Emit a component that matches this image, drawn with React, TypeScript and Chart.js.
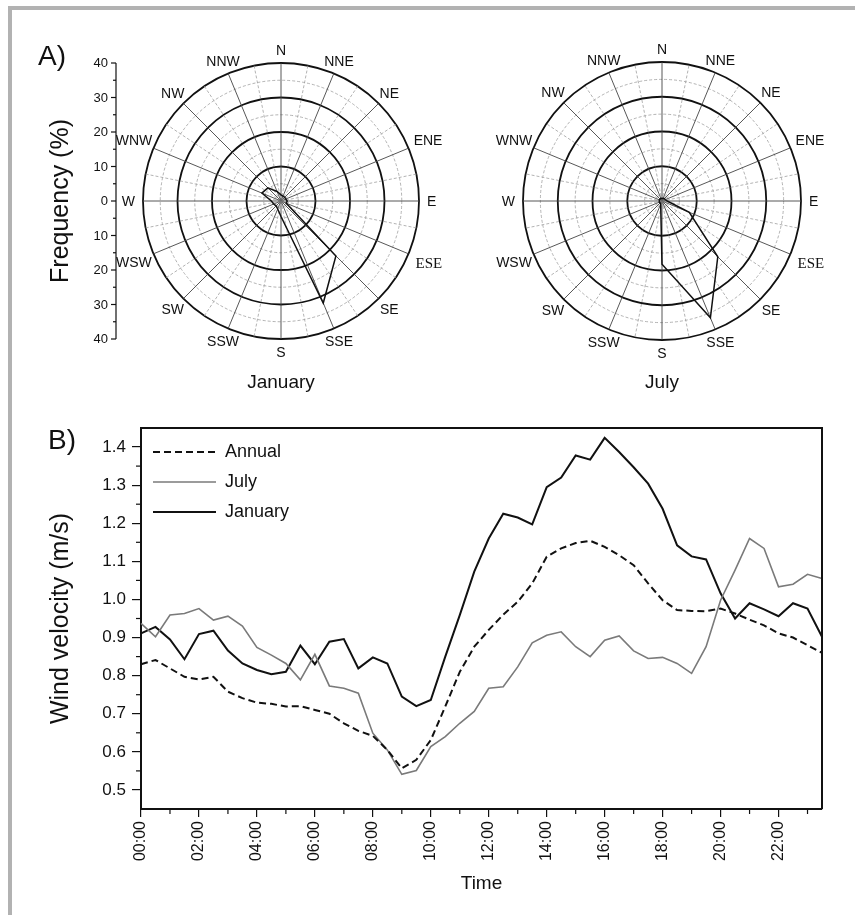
import React, { useEffect, useRef } from 'react';
import { Chart, registerables } from 'chart.js';

Chart.register(...registerables);
Chart.defaults.font.family = "'Liberation Sans', Arial, Helvetica, sans-serif";
Chart.defaults.color = '#111';

// ---------- Wind rose data (frequency %, 16 directions) ----------
const DIRECTIONS = ['N', 'NNE', 'NE', 'ENE', 'E', 'ESE', 'SE', 'SSE', 'S', 'SSW', 'SW', 'WSW', 'W', 'WNW', 'NW', 'NNW'];
const JANUARY_FREQUENCY = [1.8, 1.5, 1.5, 1.5, 1.8, 1.6, 22.5, 32.0, 4.5, 2.5, 2.0, 2.3, 2.8, 6.0, 5.4, 3.0];
const JULY_FREQUENCY = [0.8, 0.8, 1.0, 1.0, 1.5, 8.5, 22.7, 36.4, 18.2, 1.0, 0.8, 0.8, 0.8, 0.8, 0.8, 0.8];
const FREQUENCY_MAJOR_TICKS = [40, 30, 20, 10, 0, -10, -20, -30, -40];
const FREQUENCY_MINOR_TICKS = [35, 25, 15, 5, -5, -15, -25, -35];

// ---------- Daily wind velocity (m/s) ----------
const TIME_LABELS = [
  '00:00', '00:30', '01:00', '01:30', '02:00', '02:30', '03:00', '03:30',
  '04:00', '04:30', '05:00', '05:30', '06:00', '06:30', '07:00', '07:30',
  '08:00', '08:30', '09:00', '09:30', '10:00', '10:30', '11:00', '11:30',
  '12:00', '12:30', '13:00', '13:30', '14:00', '14:30', '15:00', '15:30',
  '16:00', '16:30', '17:00', '17:30', '18:00', '18:30', '19:00', '19:30',
  '20:00', '20:30', '21:00', '21:30', '22:00', '22:30', '23:00', '23:30',
];
const ANNUAL_SPEED = [
  0.83, 0.841, 0.819, 0.797, 0.79, 0.797, 0.758, 0.741,
  0.729, 0.726, 0.719, 0.72, 0.71, 0.7, 0.675, 0.655,
  0.642, 0.605, 0.557, 0.579, 0.631, 0.719, 0.81, 0.876,
  0.92, 0.96, 0.994, 1.042, 1.112, 1.134, 1.148, 1.154,
  1.138, 1.116, 1.09, 1.042, 0.998, 0.972, 0.97, 0.969,
  0.976, 0.963, 0.947, 0.932, 0.911, 0.9, 0.88, 0.86,
];
const JULY_SPEED = [
  0.937, 0.902, 0.959, 0.963, 0.976, 0.946, 0.956, 0.93,
  0.874, 0.854, 0.832, 0.789, 0.856, 0.773, 0.767, 0.754,
  0.649, 0.605, 0.541, 0.551, 0.614, 0.64, 0.675, 0.706,
  0.767, 0.771, 0.823, 0.886, 0.906, 0.915, 0.876, 0.85,
  0.893, 0.904, 0.865, 0.845, 0.848, 0.832, 0.806, 0.876,
  0.998, 1.077, 1.16, 1.134, 1.033, 1.04, 1.066, 1.055,
];
const JANUARY_SPEED = [
  0.911, 0.928, 0.895, 0.843, 0.909, 0.918, 0.866, 0.832,
  0.815, 0.804, 0.81, 0.879, 0.83, 0.889, 0.896, 0.819,
  0.848, 0.832, 0.745, 0.72, 0.736, 0.85, 0.959, 1.073,
  1.16, 1.225, 1.215, 1.197, 1.295, 1.32, 1.378, 1.367,
  1.424, 1.387, 1.347, 1.304, 1.238, 1.142, 1.113, 1.105,
  1.016, 0.95, 0.99, 0.974, 0.956, 0.99, 0.976, 0.902,
];
const SPEED_MINOR_TICKS = [0.55, 0.65, 0.75, 0.85, 0.95, 1.05, 1.15, 1.25, 1.35];

const SANS = "'Liberation Sans', Arial, Helvetica, sans-serif";
const SERIF = "'Liberation Serif', 'Times New Roman', serif";

// Direction labels centred just outside the outer ring, placed with the radial scale
const directionLabelPlugin = {
  id: 'directionLabels',
  afterDraw(chart: any) {
    const s = chart.scales.r;
    const ctx = chart.ctx;
    ctx.save();
    ctx.fillStyle = '#111';
    DIRECTIONS.forEach((d, i) => {
      const serif = d === 'ESE';
      const size = serif ? 15 : 14;
      ctx.font = `${size}px ${serif ? SERIF : SANS}`;
      const w = ctx.measureText(d).width;
      const capH = size * 0.72;
      const unit = s.getPointPosition(i * 2, 1);
      const ux = unit.x - s.xCenter;
      const uy = unit.y - s.yCenter;
      const ex = Math.abs(ux) > 1e-6 ? w / 2 / Math.abs(ux) : Infinity;
      const ey = Math.abs(uy) > 1e-6 ? capH / 2 / Math.abs(uy) : Infinity;
      const p = s.getPointPosition(i * 2, s.drawingArea + 8 + Math.min(ex, ey));
      ctx.textAlign = 'center';
      ctx.textBaseline = 'alphabetic';
      ctx.fillText(d, p.x, p.y + capH / 2);
    });
    ctx.restore();
  },
};

// Vertical frequency axis to the left of the January rose
const frequencyAxisPlugin = {
  id: 'frequencyAxis',
  afterDraw(chart: any) {
    const s = chart.scales.r;
    const ctx = chart.ctx;
    const axisX = s.xCenter - s.drawingArea - 27;
    const yOf = (v: number) => s.yCenter + (v >= 0 ? -1 : 1) * s.getDistanceFromCenterForValue(Math.abs(v));
    ctx.save();
    ctx.strokeStyle = '#111';
    ctx.fillStyle = '#111';
    ctx.lineWidth = 1.2;
    ctx.beginPath();
    ctx.moveTo(axisX, yOf(FREQUENCY_MAJOR_TICKS[0]));
    ctx.lineTo(axisX, yOf(FREQUENCY_MAJOR_TICKS[FREQUENCY_MAJOR_TICKS.length - 1]));
    ctx.stroke();
    ctx.font = `13px ${SANS}`;
    ctx.textAlign = 'right';
    ctx.textBaseline = 'middle';
    FREQUENCY_MAJOR_TICKS.forEach((v) => {
      const y = yOf(v);
      ctx.beginPath();
      ctx.moveTo(axisX - 5, y);
      ctx.lineTo(axisX, y);
      ctx.stroke();
      ctx.fillText(String(Math.abs(v)), axisX - 8, y + 0.5);
    });
    FREQUENCY_MINOR_TICKS.forEach((v) => {
      const y = yOf(v);
      ctx.beginPath();
      ctx.moveTo(axisX - 3, y);
      ctx.lineTo(axisX, y);
      ctx.stroke();
    });
    ctx.translate(axisX - 55, s.yCenter);
    ctx.rotate(-Math.PI / 2);
    ctx.font = `25px ${SANS}`;
    ctx.textAlign = 'center';
    ctx.textBaseline = 'middle';
    ctx.fillText('Frequency (%)', 0, 0);
    ctx.restore();
  },
};

type Pad = { left: number; right: number; top: number; bottom: number };
type RoseProps = { values: number[]; left: number; top: number; width: number; height: number; padding: Pad; withAxis: boolean };

function WindRose({ values, left, top, width, height, padding, withAxis }: RoseProps) {
  const ref = useRef<HTMLCanvasElement>(null);
  useEffect(() => {
    const slotLabels: string[] = [];
    const slotValues: (number | null)[] = [];
    DIRECTIONS.forEach((d, i) => {
      slotLabels.push(d, '');
      slotValues.push(values[i], null);
    });
    const plugins: any[] = [directionLabelPlugin];
    if (withAxis) plugins.push(frequencyAxisPlugin);
    const isMajor = (v: number) => Math.abs(v % 10) < 1e-6;
    const chart = new Chart(ref.current as HTMLCanvasElement, {
      type: 'radar',
      data: {
        labels: slotLabels,
        datasets: [
          {
            data: slotValues,
            borderColor: '#111',
            borderWidth: 1.5,
            backgroundColor: 'transparent',
            pointRadius: 0,
            pointHoverRadius: 0,
            fill: false,
            spanGaps: true,
            tension: 0,
          },
        ],
      },
      options: {
        responsive: false,
        animation: false,
        events: [],
        layout: { padding },
        plugins: { legend: { display: false }, tooltip: { enabled: false } },
        scales: {
          r: {
            min: 0,
            max: 40,
            startAngle: 0,
            ticks: { display: false, stepSize: 5 },
            pointLabels: { display: false },
            grid: {
              circular: true,
              color: (c: any) => (isMajor(c.tick.value) ? '#111' : '#a0a0a0'),
              lineWidth: (c: any) => (isMajor(c.tick.value) ? 1.8 : 0.8),
            },
            border: {
              dash: (c: any) => (c.tick && isMajor(c.tick.value) ? [] : [3, 2]),
            },
            angleLines: {
              color: (c: any) => (c.index % 2 === 0 ? '#444' : '#a0a0a0'),
              lineWidth: (c: any) => (c.index % 2 === 0 ? 0.9 : 0.8),
              borderDash: (c: any) => (c.index % 2 === 0 ? [] : [3, 2]),
            },
          } as any,
        },
      } as any,
      plugins,
    });
    return () => chart.destroy();
  }, []);
  return (
    <canvas
      ref={ref}
      width={width}
      height={height}
      style={{ position: 'absolute', left, top, width, height }}
    />
  );
}

// Plot frame (top/right) and minor ticks for the velocity chart
const lineFramePlugin = {
  id: 'lineFrame',
  afterDraw(chart: any) {
    const { ctx, chartArea: a, scales } = chart;
    const x = scales.x;
    const y = scales.y;
    ctx.save();
    ctx.strokeStyle = '#111';
    ctx.lineWidth = 2;
    ctx.beginPath();
    ctx.moveTo(a.left, a.top);
    ctx.lineTo(a.right, a.top);
    ctx.lineTo(a.right, a.bottom);
    ctx.stroke();
    ctx.lineWidth = 1.2;
    SPEED_MINOR_TICKS.forEach((v) => {
      const py = y.getPixelForValue(v);
      ctx.beginPath();
      ctx.moveTo(a.left - 5, py);
      ctx.lineTo(a.left, py);
      ctx.stroke();
    });
    TIME_LABELS.forEach((_t, i) => {
      if (i % 4 === 2) {
        const px = x.getPixelForValue(i);
        ctx.beginPath();
        ctx.moveTo(px, a.bottom);
        ctx.lineTo(px, a.bottom + 5);
        ctx.stroke();
      }
    });
    ctx.restore();
  },
};

function WindSpeedChart() {
  const ref = useRef<HTMLCanvasElement>(null);
  useEffect(() => {
    const isMajorSpeed = (v: number) => {
      const r = Math.round(v * 10);
      return Math.abs(v * 10 - r) < 1e-6 && r >= 5 && r <= 14;
    };
    const chart = new Chart(ref.current as HTMLCanvasElement, {
      type: 'line',
      data: {
        labels: TIME_LABELS,
        datasets: [
          { label: 'Annual', data: ANNUAL_SPEED, borderColor: '#111', backgroundColor: 'transparent', borderWidth: 2, borderDash: [7, 4], pointRadius: 0, fill: false, tension: 0 },
          { label: 'July', data: JULY_SPEED, borderColor: '#7a7a7a', backgroundColor: 'transparent', borderWidth: 1.6, pointRadius: 0, fill: false, tension: 0 },
          { label: 'January', data: JANUARY_SPEED, borderColor: '#111', backgroundColor: 'transparent', borderWidth: 2, pointRadius: 0, fill: false, tension: 0 },
        ],
      },
      options: {
        responsive: false,
        animation: false,
        events: [],
        layout: { padding: { left: 46, right: 33, top: 28, bottom: 20 } },
        plugins: {
          tooltip: { enabled: false },
          legend: {
            position: 'chartArea',
            align: 'start',
            // empty title only reserves the space between the canvas top and the first legend row
            title: { display: true, text: '', font: { size: 10 }, padding: { top: 12, bottom: 7 } },
            labels: {
              usePointStyle: true,
              pointStyle: 'line',
              pointStyleWidth: 63,
              padding: 12,
              color: '#111',
              font: { size: 18 },
              generateLabels: (c: any) => {
                const items = (Chart.defaults.plugins.legend.labels as any).generateLabels(c);
                items.forEach((it: any) => {
                  const ds: any = c.data.datasets[it.datasetIndex];
                  it.lineDash = ds.borderDash || [];
                  it.lineWidth = ds.borderWidth;
                  it.strokeStyle = ds.borderColor;
                  it.pointStyle = 'line';
                });
                return items;
              },
            },
          },
        },
        scales: {
          x: {
            type: 'category',
            offset: false,
            grid: {
              drawOnChartArea: false,
              drawTicks: true,
              tickLength: 8,
              lineWidth: 1.2,
              tickColor: (c: any) => (c.index % 4 === 0 ? '#111' : 'transparent'),
            },
            border: { display: true, color: '#111', width: 2 },
            ticks: {
              autoSkip: false,
              maxRotation: 90,
              minRotation: 90,
              padding: 4,
              color: '#111',
              font: { size: 16 },
              callback: (_v: any, i: number) => (i % 4 === 0 ? TIME_LABELS[i] : ''),
            },
            title: { display: true, text: 'Time', color: '#111', font: { size: 19 }, padding: { top: 0, bottom: 0 } },
            afterFit: (s: any) => {
              s.height = 86;
            },
          },
          y: {
            min: 0.45,
            max: 1.45,
            grid: {
              drawOnChartArea: false,
              drawTicks: true,
              tickLength: 9,
              lineWidth: 1.2,
              tickColor: (c: any) => (c.tick && isMajorSpeed(c.tick.value) ? '#111' : 'transparent'),
            },
            border: { display: true, color: '#111', width: 2 },
            ticks: {
              stepSize: 0.05,
              autoSkip: false,
              padding: 6,
              color: '#111',
              font: { size: 17 },
              callback: (v: any) => (isMajorSpeed(Number(v)) ? Number(v).toFixed(1) : ''),
            },
            title: { display: true, text: 'Wind velocity (m/s)', color: '#111', font: { size: 25 }, padding: { top: 0, bottom: 0 } },
            afterFit: (s: any) => {
              s.width = 95;
            },
          },
        },
      } as any,
      plugins: [lineFramePlugin],
    });
    return () => chart.destroy();
  }, []);
  return <canvas ref={ref} width={855} height={515} style={{ position: 'absolute', left: 0, top: 400, width: 855, height: 515 }} />;
}

const textStyle: React.CSSProperties = { position: 'absolute', fontFamily: SANS, color: '#111', whiteSpace: 'nowrap' };

export default function App() {
  return (
    <div style={{ position: 'fixed', left: 0, top: 0, width: 855, height: 915, background: '#fff', overflow: 'hidden' }}>
      <div
        style={{
          position: 'absolute',
          left: 8,
          top: 6,
          width: 847,
          height: 909,
          boxSizing: 'border-box',
          borderTop: '4px solid #b2b2b2',
          borderLeft: '4px solid #b2b2b2',
        }}
      />
      <WindRose
        values={JANUARY_FREQUENCY}
        left={10}
        top={20}
        width={440}
        height={370}
        padding={{ left: 133, right: 31, top: 43, bottom: 51 }}
        withAxis={true}
      />
      <WindRose
        values={JULY_FREQUENCY}
        left={470}
        top={20}
        width={380}
        height={370}
        padding={{ left: 53, right: 49, top: 42, bottom: 50 }}
        withAxis={false}
      />
      <WindSpeedChart />
      <div style={{ ...textStyle, left: 38, top: 42, fontSize: 28, lineHeight: '28px' }}>A)</div>
      <div style={{ ...textStyle, left: 48, top: 426, fontSize: 28, lineHeight: '28px' }}>B)</div>
      <div style={{ ...textStyle, left: 181, top: 372, width: 200, textAlign: 'center', fontSize: 19, lineHeight: '19px' }}>January</div>
      <div style={{ ...textStyle, left: 562, top: 372, width: 200, textAlign: 'center', fontSize: 19, lineHeight: '19px' }}>July</div>
    </div>
  );
}
